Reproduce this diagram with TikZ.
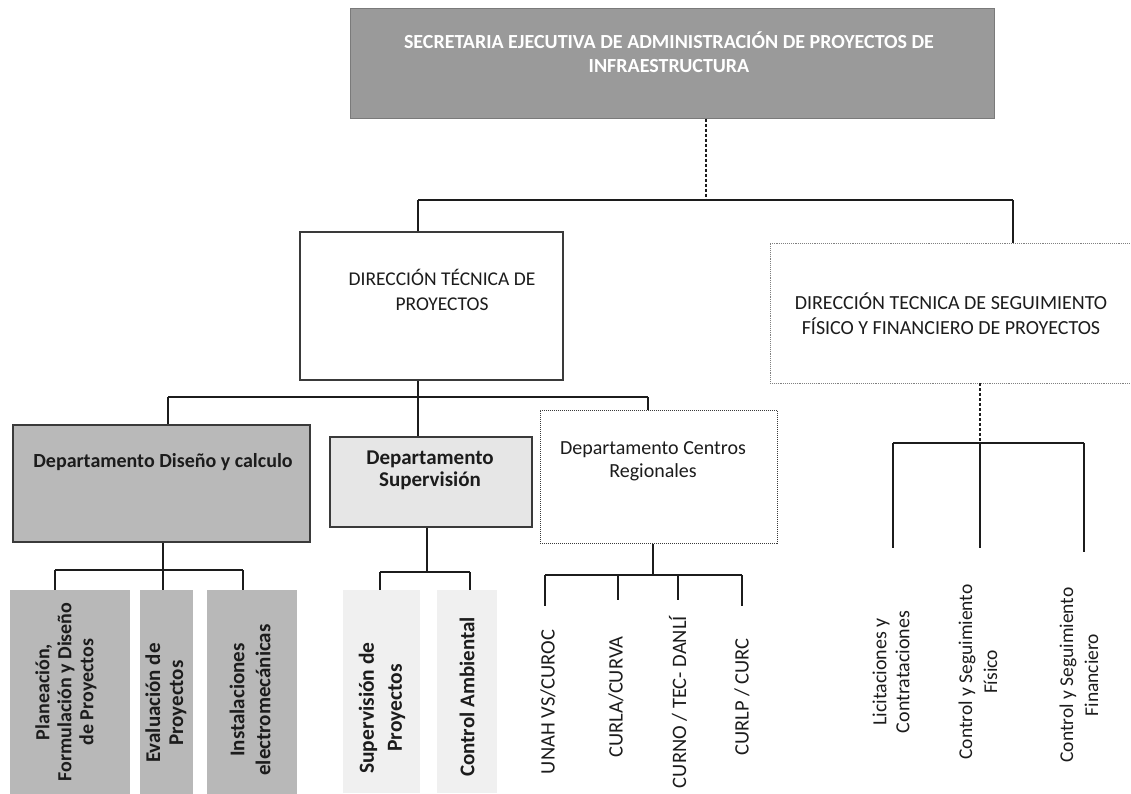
\documentclass[tikz,border=0pt]{standalone}
\usepackage{fontspec}
\setmainfont{Carlito}
\definecolor{titlegray}{HTML}{9A9A9A}
\definecolor{titleedge}{HTML}{7A7A7A}
\definecolor{deptgray}{HTML}{B9B9B9}
\definecolor{subgray}{HTML}{B8B8B8}
\definecolor{palegray}{HTML}{E6E6E6}
\definecolor{faintgray}{HTML}{F0F0F0}
\definecolor{ink}{HTML}{1C1C1C}
\definecolor{edgegray}{HTML}{3A3A3A}
\begin{document}
\begin{tikzpicture}[x=1pt,y=-1pt,
  conn/.style={draw=ink, line width=1.1pt},
  box/.style={rectangle, inner sep=0pt, anchor=center},
  titletext/.style={font=\bfseries\fontsize{20}{24}\selectfont, text=white, align=center},
  dirtext/.style={font=\fontsize{20}{25}\selectfont, text=ink, align=center},
  depttext/.style={font=\bfseries\fontsize{20}{23}\selectfont, text=ink, align=center},
  vbold/.style={font=\bfseries\fontsize{21}{23}\selectfont, text=ink, align=center, rotate=90},
  vplain/.style={font=\fontsize{20.5}{24}\selectfont, text=ink, align=center, rotate=90}
]
\useasboundingbox[fill=white] (0,0) rectangle (1131,793);

% ---------- level 0
\node[box, fill=titlegray, draw=titleedge, line width=1pt, minimum width=644pt, minimum height=110pt] (top) at (672,63) {};
\node[titletext] (topT) at (669,52) {SECRETARIA EJECUTIVA DE ADMINISTRACIÓN DE PROYECTOS DE\\INFRAESTRUCTURA};

% ---------- level 1
\node[box, fill=white, draw=edgegray, line width=1.6pt, minimum width=263pt, minimum height=148pt] (dtp) at (431.5,306) {};
\node[dirtext, font=\fontsize{19.5}{25}\selectfont] (dtpT) at (442,290) {DIRECCIÓN TÉCNICA DE\\PROYECTOS};

\node[box, fill=white, draw=gray, densely dotted, line width=0.9pt, minimum width=374pt, minimum height=140pt] (dsf) at (957,313) {};
\node[dirtext] (dsfT) at (951,314) {DIRECCIÓN TECNICA DE SEGUIMIENTO\\FÍSICO Y FINANCIERO DE PROYECTOS};

% ---------- level 2
\node[box, fill=deptgray, draw=edgegray, line width=2pt, minimum width=297pt, minimum height=117pt] (diseno) at (161.5,483.5) {};
\node[depttext] (disenoT) at (163,462) {Departamento Diseño y calculo};

\node[box, fill=palegray, draw=edgegray, line width=1.4pt, minimum width=202pt, minimum height=90pt] (superv) at (431,482) {};
\node[depttext, font=\bfseries\fontsize{21}{22}\selectfont] (supervT) at (430,470) {Departamento\\Supervisión};

\node[box, fill=white, draw=edgegray, densely dotted, line width=1pt, minimum width=237pt, minimum height=133pt] (centros) at (658.5,476.5) {};
\node[dirtext, font=\fontsize{20}{23}\selectfont] (centrosT) at (653,461) {Departamento Centros\\Regionales};

% ---------- level 3 (Diseño)
\node[box, fill=subgray, minimum width=120pt, minimum height=205pt] (plan) at (70,692.5) {};
\node[vbold, font=\bfseries\fontsize{20}{22}\selectfont] (planT) at (66,692) {Planeación,\\Formulación y Diseño\\de Proyectos};
\node[box, fill=subgray, minimum width=53pt, minimum height=205pt] (eval) at (166.5,692.5) {};
\node[vbold] (evalT) at (166,703) {Evaluación de\\Proyectos};
\node[box, fill=subgray, minimum width=90pt, minimum height=205pt] (inst) at (252,692.5) {};
\node[vbold, font=\bfseries\fontsize{21}{26}\selectfont] (instT) at (250,700) {Instalaciones\\electromecánicas};

% ---------- level 3 (Supervisión)
\node[box, fill=faintgray, minimum width=77pt, minimum height=203pt] (supP) at (381.5,691.5) {};
\node[vbold, font=\bfseries\fontsize{21.5}{28}\selectfont] (supPT) at (382,708) {Supervisión de\\Proyectos};
\node[box, fill=faintgray, minimum width=60pt, minimum height=203pt] (ctrlA) at (467,691.5) {};
\node[vbold] (ctrlAT) at (467,697) {Control Ambiental};

% ---------- level 3 (Centros)
\node[vplain] (unah) at (548,702) {UNAH VS/CUROC};
\node[vplain] (curla) at (616,697) {CURLA/CURVA};
\node[vplain] (curno) at (678,702) {CURNO / TEC- DANLÍ};
\node[vplain] (curlp) at (742,697) {CURLP / CURC};

% ---------- level 2 (Seguimiento)
\node[vplain, font=\fontsize{20}{23}\selectfont] (lic) at (891,672) {Licitaciones y\\Contrataciones};
\node[vplain, font=\fontsize{19.5}{25}\selectfont] (cfis) at (978,672) {Control y Seguimiento\\Físico};
\node[vplain, font=\fontsize{19.5}{25}\selectfont] (cfin) at (1079,675) {Control y Seguimiento\\Financiero};

% ---------- connectors: level 0 -> 1
\coordinate (aL) at (418,200);
\coordinate (aM) at (706,200);
\coordinate (aR) at (1013,200);
\draw[conn, densely dashed] (top.south -| aM) -- (aM);
\draw[conn] (aL) -- (aR);
\draw[conn] (aL) -- (aL |- dtp.north);
\draw[conn] (aR) -- (aR |- dsf.north);

% level 1 -> 2 (Dirección Técnica de Proyectos)
\coordinate (bL) at (168,397);
\coordinate (bM) at (418,397);
\coordinate (bR) at (648,397);
\draw[conn] (dtp.south -| bM) -- (bM);
\draw[conn] (bL) -- (bR);
\draw[conn] (bL) -- (bL |- diseno.north);
\draw[conn] (bM) -- (bM |- superv.north);
\draw[conn] (bR) -- (bR |- centros.north);

% Diseño -> subunits
\coordinate (cL) at (55,570);
\coordinate (cM) at (163,570);
\coordinate (cR) at (243,570);
\draw[conn] (diseno.south -| cM) -- (cM);
\draw[conn] (cL) -- (cR);
\draw[conn] (cL) -- (cL |- plan.north);
\draw[conn] (cM) -- (cM |- eval.north);
\draw[conn] (cR) -- (cR |- inst.north);

% Supervisión -> subunits
\coordinate (dL) at (380,572);
\coordinate (dM) at (427,572);
\coordinate (dR) at (470,572);
\draw[conn] (superv.south -| dM) -- (dM);
\draw[conn] (dL) -- (dR);
\draw[conn] (dL) -- (dL |- supP.north);
\draw[conn] (dR) -- (dR |- ctrlA.north);

% Centros -> regional centres
\coordinate (eL) at (545,575);
\coordinate (e2) at (618,575);
\coordinate (e3) at (678,575);
\coordinate (eR) at (742,575);
\coordinate (eM) at (653,575);
\coordinate (eLb) at (545,606);
\coordinate (e2b) at (618,600);
\coordinate (e3b) at (678,600);
\coordinate (eRb) at (742,606);
\draw[conn] (centros.south -| eM) -- (eM);
\draw[conn] (eL) -- (eR);
\draw[conn] (eL) -- (eLb);
\draw[conn] (e2) -- (e2b);
\draw[conn] (e3) -- (e3b);
\draw[conn] (eR) -- (eRb);

% Seguimiento -> subunits
\coordinate (fL) at (893,443);
\coordinate (fM) at (980,443);
\coordinate (fR) at (1084,443);
\coordinate (fLb) at (893,548);
\coordinate (fMb) at (980,548);
\coordinate (fRb) at (1084,552);
\draw[conn, densely dashed] (dsf.south -| fM) -- (fM);
\draw[conn] (fL) -- (fR);
\draw[conn] (fL) -- (fLb);
\draw[conn] (fM) -- (fMb);
\draw[conn] (fR) -- (fRb);
\end{tikzpicture}
\end{document}
